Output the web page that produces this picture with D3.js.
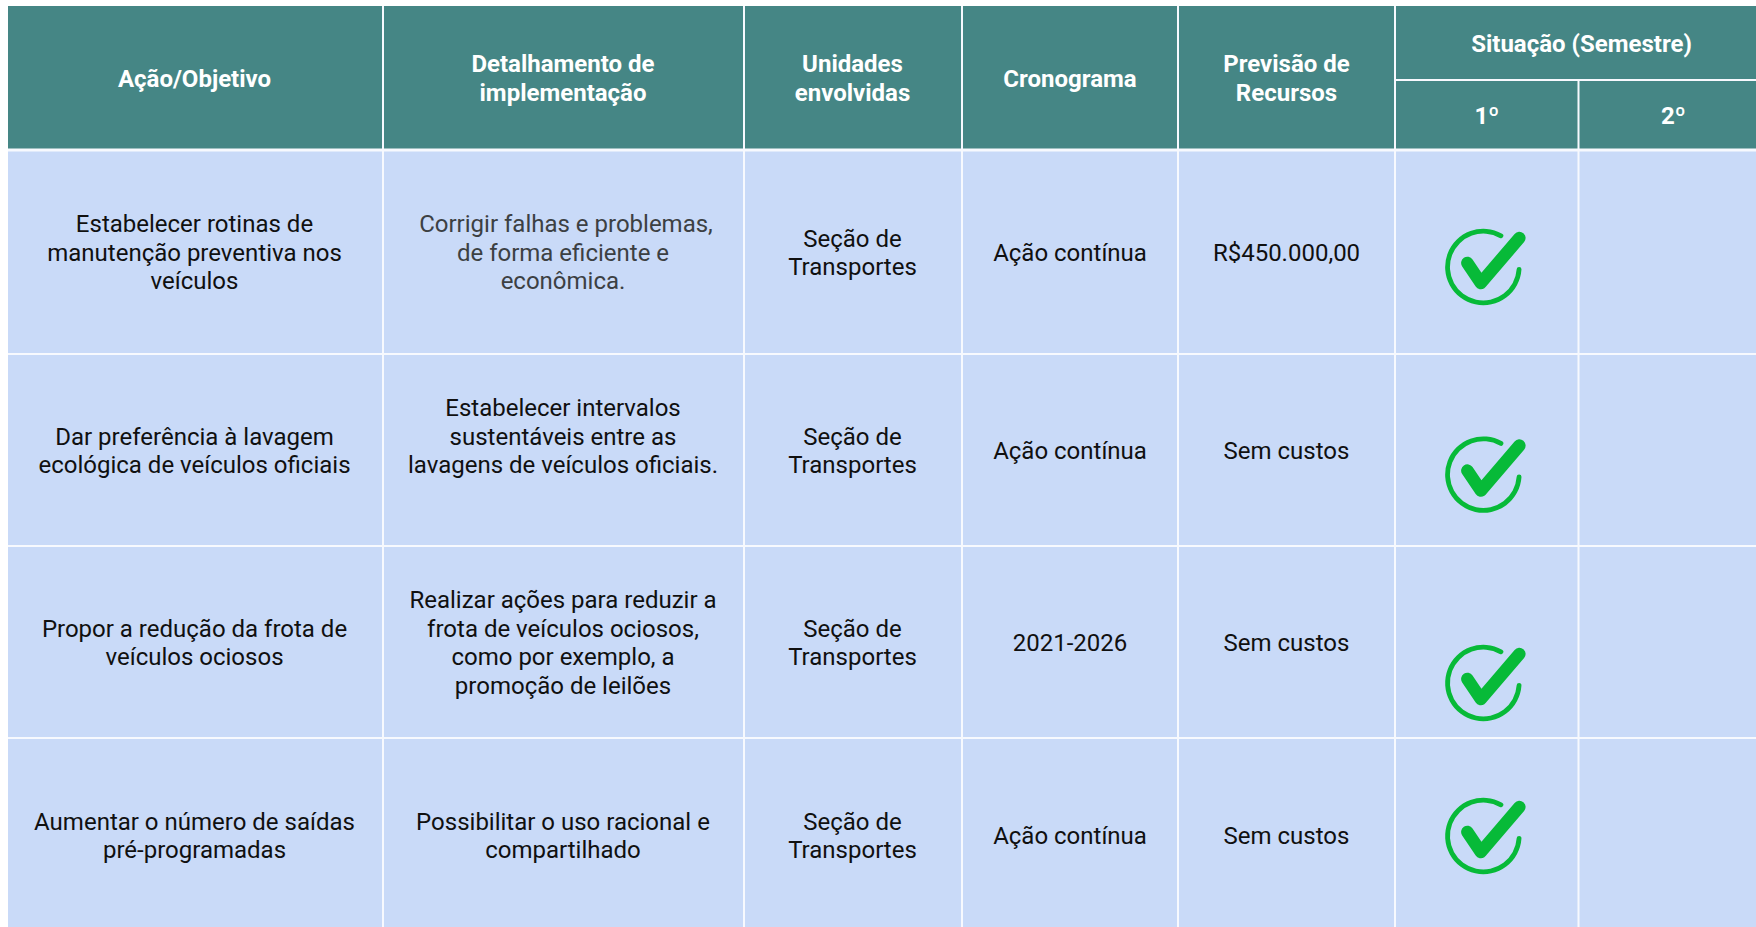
<!DOCTYPE html>
<html lang="pt-BR">
<head>
<meta charset="utf-8">
<script src="https://cdn.jsdelivr.net/npm/d3@7/dist/d3.min.js"></script>
<style>
html,body{margin:0;padding:0;background:#fff;overflow:hidden}
svg{display:block}
text{font-family:Roboto,sans-serif}
</style>
</head>
<body>
<svg id="c" width="1756" height="927"></svg>
<script>
const headers = [["Ação/Objetivo"],["Detalhamento de","implementação"],["Unidades","envolvidas"],["Cronograma"],["Previsão de","Recursos"]];
const groupHeader = "Situação (Semestre)";
const semesters = ["1º","2º"];
const acoes = [
  ["Estabelecer rotinas de","manutenção preventiva nos","veículos"],
  ["Dar preferência à lavagem","ecológica de veículos oficiais"],
  ["Propor a redução da frota de","veículos ociosos"],
  ["Aumentar o número de saídas","pré-programadas"]];
const detalhes = [
  ["Corrigir falhas e problemas,","de forma eficiente e","econômica."],
  ["Estabelecer intervalos","sustentáveis entre as","lavagens de veículos oficiais.",""],
  ["Realizar ações para reduzir a","frota de veículos ociosos,","como por exemplo, a","promoção de leilões"],
  ["Possibilitar o uso racional e","compartilhado"]];
const unidades = [["Seção de","Transportes"],["Seção de","Transportes"],["Seção de","Transportes"],["Seção de","Transportes"]];
const cronograma = [["Ação contínua"],["Ação contínua"],["2021-2026"],["Ação contínua"]];
const recursos = [["R$450.000,00"],["Sem custos"],["Sem custos"],["Sem custos"]];
const situacao1 = [true,true,true,true];
const situacao2 = [false,false,false,false];
const colunas = [acoes,detalhes,unidades,cronograma,recursos];

const colEdges = [7,383,744,962,1178,1395,1578.5,1768];
const rowEdges = [150,354,546,738,932];
const iconY = [267,474.6,683,836];
const HEAD_TOP = 6, HEAD_MID = 80, HEAD_BOTTOM = 150;
const HEAD_FILL = "#458685", BODY_FILL = "#c9daf8", GRID = "#f7f9fe", ICON = "#07ba38";
const FS = 24, LH = 28.6;

const x = d3.scaleOrdinal().domain(d3.range(colEdges.length)).range(colEdges);
const y = d3.scaleOrdinal().domain(d3.range(rowEdges.length)).range(rowEdges);
const svg = d3.select("#c");

function cell(g,x0,y0,x1,y1,fill){
  g.append("rect").attr("x",x0).attr("y",y0).attr("width",x1-x0).attr("height",y1-y0).attr("fill",fill);
}
function label(g,lines,cx,cy,color,weight,firstDx){
  const t = g.append("text").attr("text-anchor","middle").attr("fill",color)
    .attr("font-size",FS).attr("font-weight",weight);
  t.selectAll("tspan").data(lines).join("tspan")
    .attr("x",(d,i)=>cx+(i===0&&firstDx?firstDx:0))
    .attr("y",(d,i)=>cy+(i-(lines.length-1)/2)*LH+FS*0.36)
    .text(d=>d);
}
const center = c => (x(c)+x(c+1))/2 - (c<3 ? 0.5 : 0);

const head = svg.append("g");
cell(head,8,HEAD_TOP,1756,HEAD_BOTTOM,HEAD_FILL);
headers.forEach((h,i)=>label(head,h,center(i),(HEAD_TOP+HEAD_BOTTOM)/2,"#ffffff",700));
label(head,[groupHeader],(x(5)+x(7))/2,HEAD_TOP+37.5,"#ffffff",700);
semesters.forEach((s,i)=>label(head,[s],(x(5+i)+x(6+i))/2,HEAD_MID+35,"#ffffff",700));

const body = svg.append("g");
cell(body,8,HEAD_BOTTOM,1756,927,BODY_FILL);
colunas.forEach((col,c)=>col.forEach((lines,r)=>{
  const color = (c===1 && r===0) ? "#3c4043" : "#101010";
  label(body,lines,center(c),(y(r)+y(r+1))/2+0.2,color,400,(c===1&&r===0)?3:0);
}));

const check = d3.line().x(d=>d[0]).y(d=>d[1]);
const arc = d3.arc().innerRadius(33.4).outerRadius(38.2).cornerRadius(2.4)
  .startAngle(Math.PI/2).endAngle(2*Math.PI+0.58);
const icons = svg.append("g");
situacao1.forEach((on,r)=>{
  if(!on) return;
  const g = icons.append("g").attr("transform",`translate(${(x(5)+x(6))/2-3.4},${iconY[r]})`);
  g.append("path").attr("d",arc()).attr("fill",ICON);
  g.append("path").attr("d",check([[-16,-4],[-2.5,16],[36,-29]]))
    .attr("fill","none").attr("stroke",ICON).attr("stroke-width",12.5)
    .attr("stroke-linecap","round").attr("stroke-linejoin","round");
});

const grid = svg.append("g").attr("stroke",GRID).attr("stroke-width",2);
d3.range(1,7).forEach(i=>{
  grid.append("line").attr("x1",x(i)).attr("x2",x(i))
    .attr("y1",i===6?HEAD_MID:HEAD_TOP).attr("y2",927);
});
grid.append("line").attr("x1",x(5)).attr("x2",1756).attr("y1",HEAD_MID).attr("y2",HEAD_MID);
grid.append("line").attr("x1",8).attr("x2",1756).attr("y1",HEAD_BOTTOM).attr("y2",HEAD_BOTTOM).attr("stroke-width",3);
d3.range(1,4).forEach(i=>{
  grid.append("line").attr("x1",8).attr("x2",1756).attr("y1",y(i)).attr("y2",y(i));
});
</script>
</body>
</html>
